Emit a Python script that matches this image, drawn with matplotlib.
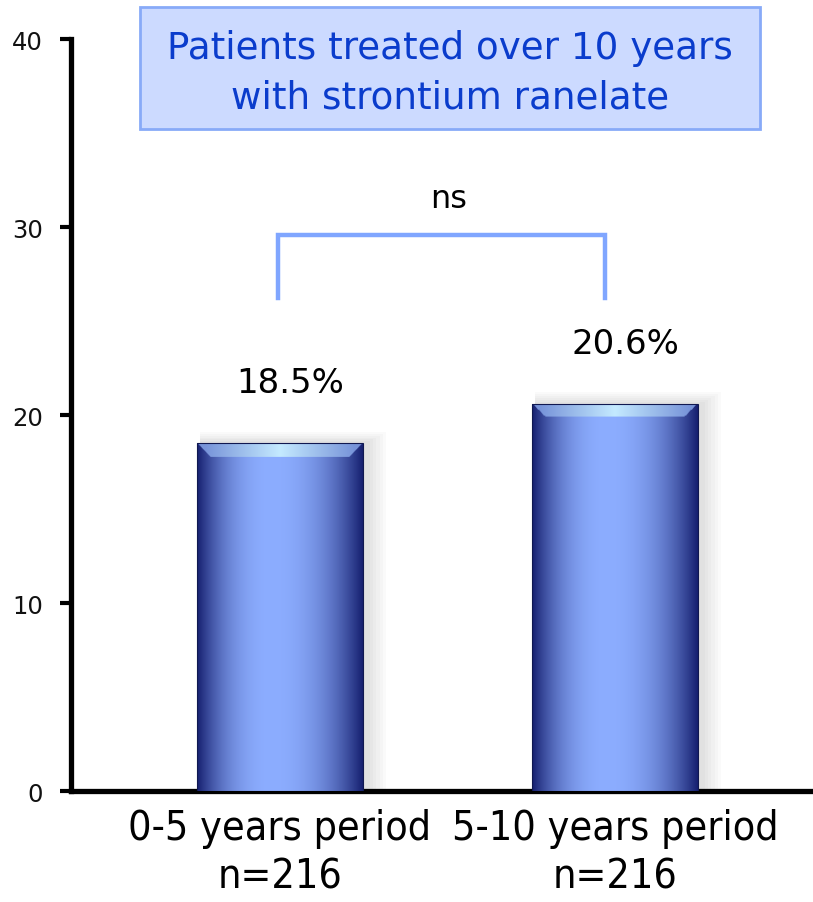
import numpy as np
import matplotlib
matplotlib.use("Agg")
import matplotlib.pyplot as plt
from matplotlib.patches import Rectangle

categories = ["0-5 years period", "5-10 years period"]
sizes = [216, 216]
values = [18.5, 20.6]
value_labels = ["18.5%", "20.6%"]
yticks = [0, 10, 20, 30, 40]
title_lines = ["Patients treated over 10 years", "with strontium ranelate"]
sig_label = "ns"

dark = np.array([0x16, 0x20, 0x70]) / 255
light = np.array([0x8c, 0xad, 0xff]) / 255
hilite = np.array([0xc4, 0xea, 0xff]) / 255


def bar_image(h, ny=400, nx=200, bevel=0.7):
    xs = np.linspace(0, 1, nx)
    ys = np.linspace(h, 0, ny)
    peak = 0.45
    t = np.where(xs < peak, (peak - xs) / peak, (xs - peak) / (1 - peak))
    f = t ** 2.2
    col = light[None, :] * (1 - f[:, None]) + dark[None, :] * f[:, None]
    img = np.tile(col[None, :, :], (ny, 1, 1))
    # top bevel
    depth = (h - ys)[:, None]
    edge = np.minimum(xs, 1 - xs)[None, :] * 166 / 18.8
    top = (depth < bevel) & (depth < edge)
    g = np.clip(1 - np.abs(xs - 0.5) * 2.2, 0, 1)[None, :]
    topcol = hilite[None, None, :] * g[..., None] + (light * 0.85)[None, None, :] * (1 - g[..., None])
    img = np.where(top[..., None], topcol, img)
    return np.clip(img, 0, 1)


fig = plt.figure(figsize=(8.13, 9.03), dpi=100)
ax = fig.add_axes([0.0873, 0.1229, 1 - 0.0873, 0.9557 - 0.1229])

x = np.arange(len(values))
width = 0.4955
bars = ax.bar(x, values, width=width, color="none", edgecolor="none", zorder=3)
for b, v in zip(bars, values):
    x0 = b.get_x()
    # soft shadow, mostly above and to the right
    for k in range(6):
        d = 0.01 * (k + 1)
        ax.add_patch(Rectangle((x0 + 0.01, 0), width + d, v + d * 10,
                               facecolor="#000000", alpha=0.018, edgecolor="none", zorder=2))
    im = ax.imshow(bar_image(v), extent=(x0, x0 + width, 0, v), aspect="auto",
                   interpolation="bilinear", zorder=3)
    im.set_clip_path(b)
    ax.add_patch(Rectangle((x0, 0), width, v, facecolor="none", edgecolor="#101850",
                           linewidth=0.8, zorder=4))

for i, (v, lab) in enumerate(zip(values, value_labels)):
    ax.text(i + 0.03, v + 2.7, lab, ha="center", va="baseline", fontsize=24.5,
            color="black", zorder=5)

# significance bracket
top = max(values) + 9.0
low = max(values) + 5.6
bx = [x[0] - 0.005, x[0] - 0.005, x[1] - 0.03, x[1] - 0.03]
ax.plot(bx, [low, top, top, low], color="#80a6ff", linewidth=3.2,
        solid_joinstyle="miter", zorder=5)
ax.text((bx[0] + bx[-1]) / 2 + 0.02, top + 1.1, sig_label, ha="center", va="bottom",
        fontsize=23, color="black")

ax.set_xlim(-0.624, 1.591)
ax.set_ylim(0, 40)
ax.set_yticks(yticks)
ax.set_yticklabels([str(t) for t in yticks], fontsize=17.5, color="#111111")
ax.tick_params(axis="y", direction="out", length=8, width=3, pad=12)
ax.set_xticks(x)
ax.set_xticklabels([f"{c}\nn={n}" for c, n in zip(categories, sizes)],
                   fontsize=29.5, fontstretch="condensed", linespacing=1.3)
ax.tick_params(axis="x", length=0, pad=12)
for s in ["top", "right"]:
    ax.spines[s].set_visible(False)
ax.spines["left"].set_linewidth(3.8)
ax.spines["bottom"].set_linewidth(3.8)

# title box
fig.patches.append(Rectangle((0.172, 0.856), 0.763, 0.135, transform=fig.transFigure,
                             facecolor="#ccdaff", edgecolor="#88aaf8", linewidth=2))
fig.text(0.553, 0.919, "\n".join(title_lines), ha="center", va="center",
         fontsize=26.8, color="#0a3ccc", linespacing=1.45)

fig.savefig("out.png", dpi=100)
